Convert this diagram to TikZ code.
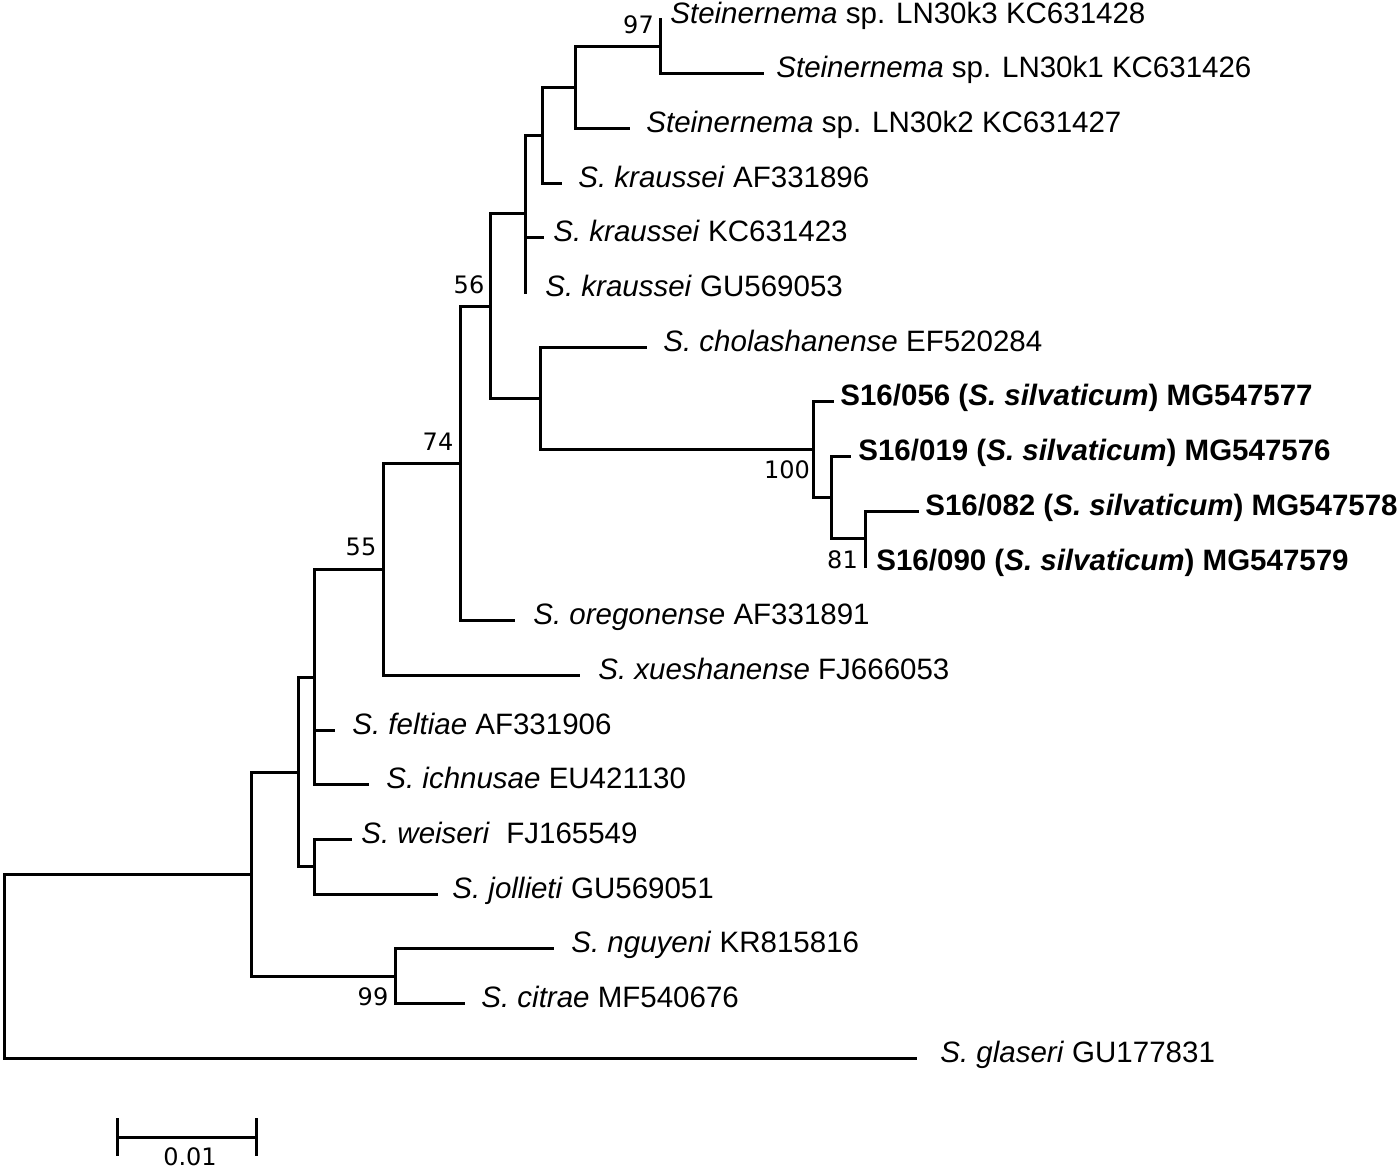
\documentclass[tikz,border=0pt]{standalone}
\usepackage{fontspec}
\setmainfont{Liberation Sans}
\newfontfamily\bsfont{DejaVu Sans}
\begin{document}
\begin{tikzpicture}[x=0.5pt,y=-0.5pt,
  branch/.style={line width=1.5pt,line join=miter,line cap=rect},
  taxon/.style={anchor=base west,inner sep=0pt,font=\fontsize{14.75}{17}\selectfont},
  boot/.style={anchor=center,inner sep=0pt,font=\bsfont\fontsize{12}{14}\selectfont}]
\useasboundingbox (0,0) rectangle (1400,1169);
% leaf tips
\coordinate (l0) at (660,19);
\coordinate (l1) at (762,73.7);
\coordinate (l2) at (628,128.4);
\coordinate (l3) at (560,183.1);
\coordinate (l4) at (542,237.8);
\coordinate (l5) at (525,292.5);
\coordinate (l6) at (645,347.2);
\coordinate (l7) at (832,401.9);
\coordinate (l8) at (849,456.6);
\coordinate (l9) at (917,511.3);
\coordinate (l10) at (865,566);
\coordinate (l11) at (513,620.7);
\coordinate (l12) at (578,675.4);
\coordinate (l13) at (333,730.1);
\coordinate (l14) at (367,784.8);
\coordinate (l15) at (350,839.5);
\coordinate (l16) at (436,894.2);
\coordinate (l17) at (552,948.9);
\coordinate (l18) at (463,1003.6);
\coordinate (l19) at (915,1058.3);
% internal nodes
\coordinate (n97) at (660,46.35);
\coordinate (nA) at (575,87.4);
\coordinate (nB) at (542,135.25);
\coordinate (nC) at (525,213.9);
\coordinate (nD) at (490,306.2);
\coordinate (nE) at (540,398.5);
\coordinate (nF) at (813,449.75);
\coordinate (nG) at (831,497.6);
\coordinate (nH) at (865,538.65);
\coordinate (nI) at (460,463.45);
\coordinate (nJ) at (383,569.4);
\coordinate (nK) at (314,677.1);
\coordinate (nL) at (298,772);
\coordinate (nM) at (314,866.85);
\coordinate (nN) at (251,874.1);
\coordinate (nO) at (395,976.25);
\coordinate (root) at (4,966.2);
% branches
\draw[branch] (n97) |- (l0);
\draw[branch] (n97) |- (l1);
\draw[branch] (nA) |- (n97);
\draw[branch] (nA) |- (l2);
\draw[branch] (nB) |- (nA);
\draw[branch] (nB) |- (l3);
\draw[branch] (nC) |- (nB);
\draw[branch] (nC) |- (l4);
\draw[branch] (nC) |- (l5);
\draw[branch] (nD) |- (nC);
\draw[branch] (nD) |- (nE);
\draw[branch] (nE) |- (l6);
\draw[branch] (nE) |- (nF);
\draw[branch] (nF) |- (l7);
\draw[branch] (nF) |- (nG);
\draw[branch] (nG) |- (l8);
\draw[branch] (nG) |- (nH);
\draw[branch] (nH) |- (l9);
\draw[branch] (nH) |- (l10);
\draw[branch] (nI) |- (nD);
\draw[branch] (nI) |- (l11);
\draw[branch] (nJ) |- (nI);
\draw[branch] (nJ) |- (l12);
\draw[branch] (nK) |- (nJ);
\draw[branch] (nK) |- (l13);
\draw[branch] (nK) |- (l14);
\draw[branch] (nL) |- (nK);
\draw[branch] (nL) |- (nM);
\draw[branch] (nM) |- (l15);
\draw[branch] (nM) |- (l16);
\draw[branch] (nN) |- (nL);
\draw[branch] (nN) |- (nO);
\draw[branch] (nO) |- (l17);
\draw[branch] (nO) |- (l18);
\draw[branch] (root) |- (nN);
\draw[branch] (root) |- (l19);
% taxon labels
\node[taxon] (t0) at (670,23) {\textit{Steinernema} sp. LN30k3 KC631428};
\node[taxon] (t1) at (776,77.7) {\textit{Steinernema} sp. LN30k1 KC631426};
\node[taxon] (t2) at (646,132.4) {\textit{Steinernema} sp. LN30k2 KC631427};
\node[taxon] (t3) at (578,187.1) {\textit{S. kraussei} AF331896};
\node[taxon] (t4) at (553,241.8) {\textit{S. kraussei} KC631423};
\node[taxon] (t5) at (545,296.5) {\textit{S. kraussei} GU569053};
\node[taxon] (t6) at (663,351.2) {\textit{S. cholashanense} EF520284};
\node[taxon] (t7) at (840,405.9) {\textbf{S16/056 (\textit{S. silvaticum}) MG547577}};
\node[taxon] (t8) at (858,460.6) {\textbf{S16/019 (\textit{S. silvaticum}) MG547576}};
\node[taxon] (t9) at (925,515.3) {\textbf{S16/082 (\textit{S. silvaticum}) MG547578}};
\node[taxon] (t10) at (876,570) {\textbf{S16/090 (\textit{S. silvaticum}) MG547579}};
\node[taxon] (t11) at (533,624.7) {\textit{S. oregonense} AF331891};
\node[taxon] (t12) at (598,679.4) {\textit{S. xueshanense} FJ666053};
\node[taxon] (t13) at (352,734.1) {\textit{S. feltiae} AF331906};
\node[taxon] (t14) at (386,788.8) {\textit{S. ichnusae} EU421130};
\node[taxon] (t15) at (361,843.5) {\textit{S. weiseri}\ \ FJ165549};
\node[taxon] (t16) at (452,898.2) {\textit{S. jollieti} GU569051};
\node[taxon] (t17) at (571,952.9) {\textit{S. nguyeni} KR815816};
\node[taxon] (t18) at (481,1007.6) {\textit{S. citrae} MF540676};
\node[taxon] (t19) at (940,1062.3) {\textit{S. glaseri} GU177831};
% bootstrap values
\node[boot] (b97) at (638.5,24.5) {97};
\node[boot] (b56) at (469,284.5) {56};
\node[boot] (b74) at (438,442) {74};
\node[boot] (b55) at (361,547) {55};
\node[boot] (b100) at (787,470) {100};
\node[boot] (b81) at (842.5,559.5) {81};
\node[boot] (b99) at (373,997) {99};
% scale bar
\coordinate (sbL) at (117,1137);
\coordinate (sbR) at (256,1137);
\draw[branch,line cap=butt] (sbL) -- (sbR);
\draw[branch,line cap=butt] ([yshift=9.5]sbL) -- ([yshift=-9.5]sbL);
\draw[branch,line cap=butt] ([yshift=9.5]sbR) -- ([yshift=-9.5]sbR);
\node[boot] (sbT) at (190,1157) {0.01};
\end{tikzpicture}
\end{document}
